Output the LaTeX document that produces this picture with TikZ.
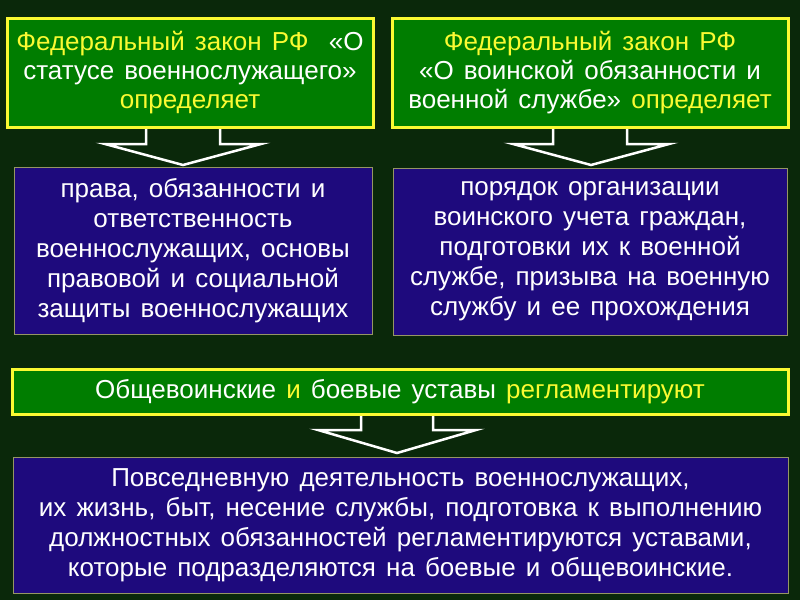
\documentclass[tikz,border=0pt]{standalone}
\usepackage{fontspec}
\setmainfont[WordSpace=1.4]{Liberation Sans}
\usetikzlibrary{calc}
\definecolor{bg}{RGB}{10,40,10}
\definecolor{lawgreen}{RGB}{0,125,0}
\definecolor{lawyellow}{RGB}{250,250,50}
\definecolor{topicblue}{RGB}{30,10,125}
\definecolor{topicedge}{RGB}{150,150,100}
\tikzset{
  lawbox/.style={draw=lawyellow, line width=3pt, fill=lawgreen, text=white,
    align=center, inner sep=0pt, font=\fontsize{26}{29}\selectfont},
  topicbox/.style={draw=topicedge, line width=1pt, fill=topicblue, text=white,
    align=center, inner sep=0pt, font=\fontsize{26}{30}\selectfont},
  hollow/.style={draw=white, line width=2.5pt, fill=bg, line join=miter}
}
\newcommand{\hl}[1]{\textcolor{lawyellow}{#1}}
\begin{document}
\begin{tikzpicture}[x=1pt,y=-1pt]
  \useasboundingbox[fill=bg] (0,0) rectangle (800,600);
  % arrows first, boxes cover the stem ends
  \draw[hollow] (146,122) -- (146,144) -- (105,144) -- (183,165)
    -- (261,144) -- (220,144) -- (220,122);
  \draw[hollow] (553,122) -- (553,144) -- (513,144) -- (591,165)
    -- (669,144) -- (627,144) -- (627,122);
  \draw[hollow] (361,410) -- (361,430) -- (318,430) -- (397,453)
    -- (476,430) -- (433,430) -- (433,410);
  % boxes
  \draw
    (190,72.5) node[lawbox, minimum width=366pt, minimum height=109pt] (law1)
      {\hl{Федеральный закон РФ}\ \ «О\\статусе военнослужащего»\\\hl{определяет}}
    (590,72.5) node[lawbox, minimum width=396pt, minimum height=109pt] (law2)
      {\hl{Федеральный закон РФ}\\«О воинской обязанности и\\военной службе» \hl{определяет}}
    (193,250.5) node[topicbox, minimum width=358pt, minimum height=167pt] (rights)
      {права, обязанности и\\ответственность\\военнослужащих, основы\\правовой и социальной\\защиты военнослужащих}
    (590,251.5) node[topicbox, minimum width=394pt, minimum height=167pt] (order)
      {порядок организации\\воинского учета граждан,\\подготовки их к военной\\службе, призыва на военную\\службу и ее прохождения}
    (400,391.5) node[lawbox, minimum width=776pt, minimum height=45pt] (rules)
      {Общевоинские \hl{и} боевые уставы \hl{регламентируют}}
    (400.5,525) node[topicbox, minimum width=775pt, minimum height=136pt] (daily)
      {Повседневную деятельность военнослужащих,\\их жизнь, быт, несение службы, подготовка к выполнению\\должностных обязанностей регламентируются уставами,\\которые подразделяются на боевые и общевоинские.};
\end{tikzpicture}
\end{document}
